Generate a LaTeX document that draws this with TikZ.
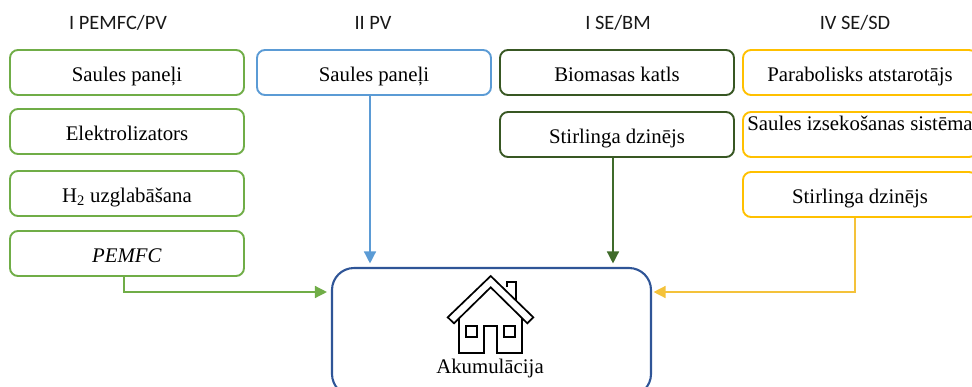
\documentclass[tikz,border=0pt]{standalone}
\usepackage{fontspec}
\setmainfont{Liberation Serif}
\newfontfamily\headfont{Carlito}
\usetikzlibrary{arrows.meta}
\definecolor{cgreen}{HTML}{70AD47}
\definecolor{cblue}{HTML}{5B9BD5}
\definecolor{cdark}{HTML}{385723}
\definecolor{carrowd}{HTML}{3F6B2A}
\definecolor{cyellow}{HTML}{FFC000}
\definecolor{carrowy}{HTML}{F4C23A}
\definecolor{cnavy}{HTML}{2F5597}
\tikzset{
  x=1pt,y=-1pt,
  stagebox/.style={draw=#1,line width=1.9pt,rounded corners=8pt,minimum width=234pt,minimum height=45pt,inner sep=0pt,text height=17pt,text depth=0pt,font=\fontsize{20.8pt}{25pt}\selectfont,text=black},
  heading/.style={font=\headfont\fontsize{20.4pt}{24pt}\selectfont,text=black!90,inner sep=0pt,anchor=base},
  link/.style={draw=#1,line width=1.4pt,-{Triangle[width=12pt,length=12pt]},shorten >=3.5pt},
  houseline/.style={draw=black,line width=1.7pt,line join=miter,fill=none}
}
\begin{document}
\begin{tikzpicture}
\clip (0,0) rectangle (972,386);
\node[heading] (h1) at (118,29.5) {I PEMFC/PV};
\node[heading] (h2) at (373,29.5) {II PV};
\node[heading] (h3) at (618,29.5) {I SE/BM};
\node[heading] (h4) at (855,29.5) {IV SE/SD};
\node[stagebox=cgreen] (a1) at (127,72.5) {Saules paneļi};
\node[stagebox=cgreen] (a2) at (127,131.5) {Elektrolizators};
\node[stagebox=cgreen] (a3) at (127,193.5) {H\textsubscript{2} uzglabāšana};
\node[stagebox=cgreen] (a4) at (127,253.5) {\textit{PEMFC}};
\node[stagebox=cblue] (b1) at (374,72.5) {Saules paneļi};
\node[stagebox=cdark] (c1) at (617,72.5) {Biomasas katls};
\node[stagebox=cdark] (c2) at (617,134.5) {Stirlinga dzinējs};
\node[stagebox=cyellow] (d1) at (860,72.5) {Parabolisks atstarotājs};
\node[stagebox=cyellow,text depth=25pt] (d2) at (860,134.5) {Saules izsekošanas sistēma};
\node[stagebox=cyellow] (d3) at (860,194.5) {Stirlinga dzinējs};
\node[draw=cnavy,line width=2.1pt,rounded corners=22pt,minimum width=319pt,minimum height=128pt,inner sep=0pt] (acc) at (491.5,332) {};
\node[font=\fontsize{20.8pt}{24pt}\selectfont,text=black,inner sep=0pt,anchor=base] (acclabel) at (490,373) {Akumulācija};
\coordinate (elbowa) at (124,292);
\coordinate (elbowd) at (855,292);
\draw[link=cgreen,shorten >=4pt] (a4.south -| elbowa) -- (elbowa) -- (elbowa -| acc.west);
\coordinate (bx) at (370,0);
\draw[link=cblue] (b1.south -| bx) -- (acc.north -| bx);
\coordinate (cx) at (613,0);
\draw[link=carrowd] (c2.south -| cx) -- (acc.north -| cx);
\draw[link=carrowy,shorten >=1.5pt] (d3.south -| elbowd) -- (elbowd) -- (elbowd -| acc.east);
% house icon
\draw[houseline] (490.7,276) -- (533.3,317.3) -- (527.3,323.3) -- (490.7,287.3) -- (454,323.3) -- (447.7,317.3) -- cycle;
\draw[houseline] (507.3,287) -- (507.3,281.7) -- (516,281.7) -- (516,300);
\draw[houseline] (459.3,318.3) -- (459.3,352.7) -- (484,352.7) -- (484,326) -- (496.7,326) -- (496.7,352.7) -- (521.7,352.7) -- (521.7,318.3);
\draw[houseline] (466,326) rectangle (477,336.7);
\draw[houseline] (504,326) rectangle (515,336.7);
\end{tikzpicture}
\end{document}
